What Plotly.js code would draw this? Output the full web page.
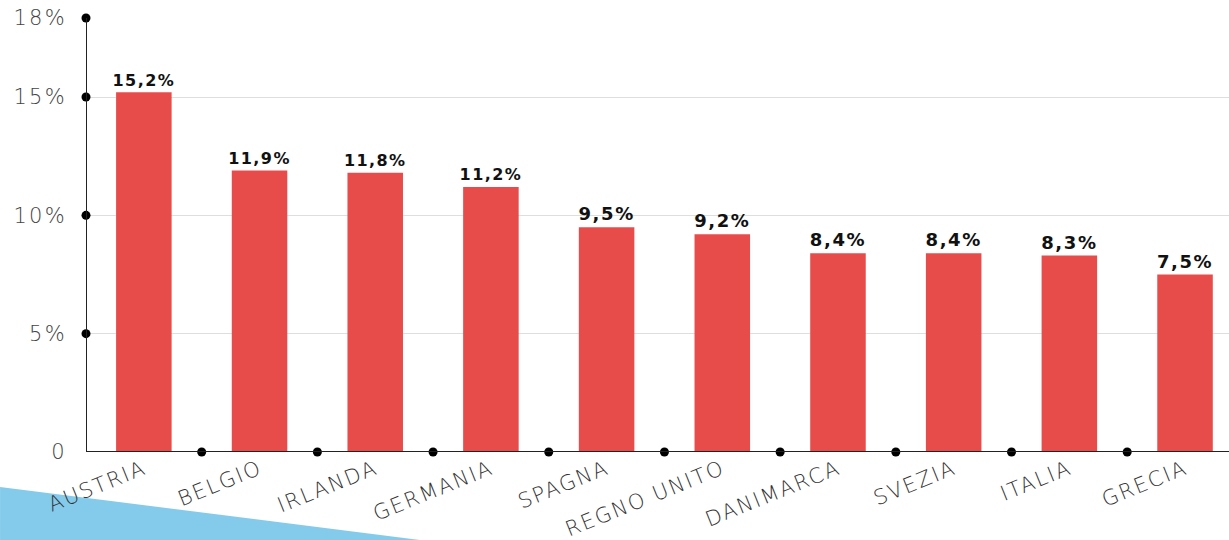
<!DOCTYPE html>
<html>
<head>
<meta charset="utf-8">
<script src="https://cdn.plot.ly/plotly-3.0.1.min.js"></script>
<style>
html,body{margin:0;padding:0;background:#fff;}
#chart{width:1229px;height:540px;}
#chart .xtick text{letter-spacing:1.8px;}
#chart .ytick text{letter-spacing:2.2px;}
#chart text.bartext{letter-spacing:1.6px;}
</style>
</head>
<body>
<div id="chart"></div>
<script>
const categories = ["AUSTRIA","BELGIO","IRLANDA","GERMANIA","SPAGNA","REGNO UNITO","DANIMARCA","SVEZIA","ITALIA","GRECIA"];
const values = [15.2, 11.9, 11.8, 11.2, 9.5, 9.2, 8.4, 8.4, 8.3, 7.5];
const yTickVals = [0, 5, 10, 15, 18.34];
const yTickText = ["0", "5%", "10%", "15%", "18%"];

const idx = categories.map((c, i) => i);
const labels = values.map(v => v.toFixed(1).replace('.', ',') + '%');
const sepX = categories.slice(1).map((c, i) => i + 0.5);

const bars = {
  type: 'bar', x: idx, y: values, text: labels, textposition: 'outside',
  textfont: {family: 'DejaVu Sans', size: 18, color: '#111', weight: 'bold'},
  marker: {color: '#E84C4A', line: {width: 0}}, width: 0.48,
  cliponaxis: false, hoverinfo: 'none'
};
const xDots = {
  type: 'scatter', mode: 'markers', x: sepX, y: sepX.map(() => 0),
  marker: {color: '#000', size: 9}, cliponaxis: false, hoverinfo: 'none'
};
const yDots = {
  type: 'scatter', mode: 'markers', x: yTickVals.slice(1).map(() => -0.5), y: yTickVals.slice(1),
  marker: {color: '#000', size: 9}, cliponaxis: false, hoverinfo: 'none'
};

const layout = {
  width: 1229, height: 540,
  margin: {l: 86, r: 0, t: 18, b: 88},
  paper_bgcolor: '#fff', plot_bgcolor: '#fff',
  showlegend: false,
  xaxis: {
    range: [-0.5, 9.38], tickvals: idx, ticktext: categories, tickangle: -22,
    tickfont: {family: 'DejaVu Sans', size: 21, color: '#333', weight: 200},
    showgrid: false, zeroline: false, showline: false, ticks: '', fixedrange: true
  },
  yaxis: {
    range: [0, 18.34], tickvals: yTickVals, ticktext: yTickText,
    tickfont: {family: 'DejaVu Sans', size: 21, color: '#444', weight: 200},
    showgrid: true, gridcolor: '#dedede', gridwidth: 1,
    zeroline: false, showline: false,
    ticks: 'outside', ticklen: 14, tickcolor: 'rgba(0,0,0,0)', fixedrange: true
  },
  shapes: [
    {type: 'path', xref: 'paper', yref: 'paper',
     path: 'M -0.0752 -0.0806 L 0.2922 -0.2028 L -0.0752 -0.2028 Z',
     fillcolor: '#84CBEB', line: {width: 0}, layer: 'below'},
    {type: 'line', xref: 'paper', yref: 'y', x0: 0, x1: 1, y0: 0, y1: 0,
     line: {color: '#222', width: 2}, layer: 'above'},
    {type: 'line', xref: 'x', yref: 'paper', x0: -0.5, x1: -0.5, y0: 0, y1: 1,
     line: {color: '#222', width: 2}, layer: 'above'}
  ]
};

Plotly.newPlot('chart', [bars, xDots, yDots], layout, {displayModeBar: false, staticPlot: true});
</script>
</body>
</html>
